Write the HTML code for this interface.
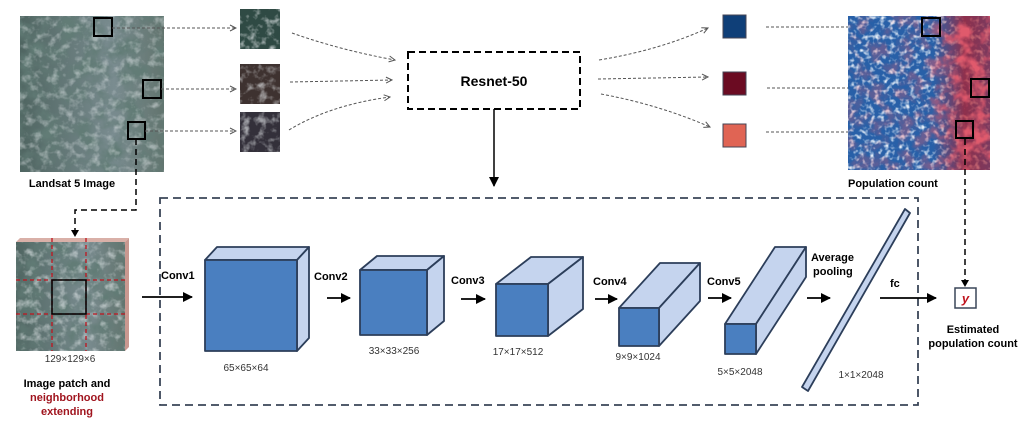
<!DOCTYPE html>
<html><head><meta charset="utf-8"><style>
html,body{margin:0;padding:0;background:#fff;}
svg{display:block;font-family:"Liberation Sans",Arial,sans-serif;}
</style></head><body>
<svg width="1036" height="424" viewBox="0 0 1036 424" xmlns="http://www.w3.org/2000/svg">
<defs>
<marker id="oa" markerWidth="8" markerHeight="8" refX="7" refY="4" orient="auto" markerUnits="userSpaceOnUse"><path d="M1,1 L7,4 L1,7" fill="none" stroke="#555" stroke-width="1"/></marker>
<marker id="fa" markerWidth="10" markerHeight="10" refX="9" refY="5" orient="auto" markerUnits="userSpaceOnUse"><path d="M0,0 L10,5 L0,10 z" fill="#000"/></marker>
<filter id="dark" x="0" y="0" width="100%" height="100%">
<feTurbulence type="fractalNoise" baseFrequency="0.05" numOctaves="4" seed="3"/>
<feColorMatrix values="0 0 0 0 0.12  0 0 0 0 0.2  0 0 0 0 0.18  2.6 0 0 0 -1.0"/>
<feComposite in2="SourceGraphic" operator="in"/>
</filter>
<filter id="light" x="0" y="0" width="100%" height="100%">
<feTurbulence type="fractalNoise" baseFrequency="0.12" numOctaves="3" seed="11"/>
<feColorMatrix values="0 0 0 0 0.85  0 0 0 0 0.88  0 0 0 0 0.9  2.8 0 0 0 -1.35"/>
<feComposite in2="SourceGraphic" operator="in"/>
</filter>
<filter id="red" x="0" y="0" width="100%" height="100%">
<feTurbulence type="fractalNoise" baseFrequency="0.07" numOctaves="3" seed="7"/>
<feColorMatrix values="0 0 0 0 0.75  0 0 0 0 0.1  0 0 0 0 0.15  3.5 0 0 0 -1.5"/>
<feComposite in2="SourceGraphic" operator="in"/>
</filter>
<filter id="wsp" x="0" y="0" width="100%" height="100%">
<feTurbulence type="fractalNoise" baseFrequency="0.2" numOctaves="2" seed="5"/>
<feColorMatrix values="0 0 0 0 0.8  0 0 0 0 0.87  0 0 0 0 0.95  3 0 0 0 -1.45"/>
<feComposite in2="SourceGraphic" operator="in"/>
</filter>
<linearGradient id="lg" x1="0" y1="0" x2="1" y2="0"><stop offset="0" stop-color="#4f6561"/><stop offset="0.65" stop-color="#7a8c90"/><stop offset="1" stop-color="#62746e"/></linearGradient>
<linearGradient id="rm" x1="0" y1="0" x2="1" y2="0"><stop offset="0" stop-color="#fff" stop-opacity="0.25"/><stop offset="0.55" stop-color="#fff" stop-opacity="0.35"/><stop offset="0.8" stop-color="#fff" stop-opacity="1"/></linearGradient>
<linearGradient id="rg" x1="0" y1="0" x2="1" y2="0"><stop offset="0" stop-color="#b0202e" stop-opacity="0"/><stop offset="0.6" stop-color="#b0202e" stop-opacity="0"/><stop offset="0.82" stop-color="#b0202e" stop-opacity="0.75"/><stop offset="1" stop-color="#b0202e" stop-opacity="0.6"/></linearGradient>
<mask id="rmask"><rect x="848" y="16" width="142" height="154" fill="url(#rm)"/></mask>
</defs>

<rect x="20" y="16" width="144" height="156" fill="url(#lg)"/>
<rect x="20" y="16" width="144" height="156" fill="#000" filter="url(#dark)"/>
<rect x="20" y="16" width="144" height="156" fill="#000" filter="url(#light)" opacity="0.45"/>
<rect x="94" y="18" width="18" height="18" fill="none" stroke="#000" stroke-width="2"/>
<rect x="143" y="80" width="18" height="18" fill="none" stroke="#000" stroke-width="2"/>
<rect x="128" y="122" width="17" height="17" fill="none" stroke="#000" stroke-width="2"/>
<text x="72" y="187" font-size="11" font-weight="bold" text-anchor="middle">Landsat 5 Image</text>

<rect x="240" y="9" width="40" height="40" fill="#2f4a44"/>
<rect x="240" y="64" width="40" height="40" fill="#3e3230"/>
<rect x="240" y="112" width="40" height="40" fill="#33303a"/>
<rect x="240" y="9" width="40" height="40" fill="#000" filter="url(#light)" opacity="0.7"/>
<rect x="240" y="64" width="40" height="40" fill="#000" filter="url(#light)" opacity="0.6"/>
<rect x="240" y="112" width="40" height="40" fill="#000" filter="url(#light)" opacity="0.6"/>

<g stroke="#555" stroke-width="1" stroke-dasharray="3,2" fill="none" marker-end="url(#oa)">
<line x1="112" y1="28" x2="236" y2="28"/>
<line x1="161" y1="89" x2="236" y2="89"/>
<line x1="145" y1="131" x2="236" y2="131"/>
<path d="M292,33 Q340,50 395,60"/>
<line x1="290" y1="82" x2="392" y2="80"/>
<path d="M289,130 Q330,105 390,97"/>
<path d="M599,60 Q660,50 708,28"/>
<line x1="598" y1="79" x2="708" y2="77"/>
<path d="M601,94 Q660,105 710,127"/>
<line x1="766" y1="27" x2="920" y2="27" marker-end="none"/>
<line x1="767" y1="88" x2="970" y2="88" marker-end="none"/>
<line x1="766" y1="132" x2="956" y2="132" marker-end="none"/>
</g>

<rect x="408" y="52" width="172" height="57" fill="none" stroke="#000" stroke-width="2" stroke-dasharray="7,4"/>
<text x="494" y="86" font-size="14" font-weight="bold" text-anchor="middle">Resnet-50</text>
<line x1="494" y1="109" x2="494" y2="186" stroke="#000" stroke-width="1.5" marker-end="url(#fa)"/>

<rect x="723" y="15" width="23" height="23" fill="#0f3f78" stroke="#445" stroke-width="1"/>
<rect x="723" y="72" width="23" height="23" fill="#6b0b22" stroke="#445" stroke-width="1"/>
<rect x="723" y="124" width="23" height="23" fill="#e06454" stroke="#445" stroke-width="1"/>

<rect x="848" y="16" width="142" height="154" fill="#2860a8"/>
<rect x="848" y="16" width="142" height="154" fill="#000" filter="url(#wsp)"/>
<rect x="848" y="16" width="142" height="154" fill="url(#rg)"/>
<rect x="848" y="16" width="142" height="154" fill="#000" filter="url(#red)" mask="url(#rmask)"/>
<rect x="922" y="18" width="18" height="18" fill="none" stroke="#000" stroke-width="2"/>
<rect x="971" y="79" width="18" height="18" fill="none" stroke="#000" stroke-width="2"/>
<rect x="956" y="121" width="17" height="17" fill="none" stroke="#000" stroke-width="2"/>
<text x="848" y="187" font-size="11" font-weight="bold">Population count</text>
<path d="M965,139 L965,284" stroke="#000" stroke-width="1.5" stroke-dasharray="6,4" fill="none"/>
<path d="M961,280 L965,287 L969,280 z" fill="#000"/>

<rect x="160" y="198" width="758" height="207" fill="none" stroke="#3a4658" stroke-width="1.8" stroke-dasharray="8,5"/>

<path d="M136,139 L136,210 L75,210 L75,230" stroke="#000" stroke-width="1.5" stroke-dasharray="6,4" fill="none"/>
<path d="M71,230 L75,237 L79,230 z" fill="#000"/>
<polygon points="16,242 20,238 129,238 125,242" fill="#d9b0a8"/>
<polygon points="125,242 129,238 129,347 125,351" fill="#c99890"/>
<rect x="16" y="242" width="109" height="109" fill="url(#lg)"/>
<rect x="16" y="242" width="109" height="109" fill="#000" filter="url(#dark)"/>
<rect x="16" y="242" width="109" height="109" fill="#000" filter="url(#light)" opacity="0.55"/>
<g stroke="#c0141e" stroke-width="1.3" stroke-dasharray="4,3">
<line x1="52" y1="238" x2="52" y2="351"/><line x1="86" y1="238" x2="86" y2="351"/>
<line x1="16" y1="280" x2="125" y2="280"/><line x1="16" y1="314" x2="125" y2="314"/>
</g>
<rect x="52" y="280" width="34" height="34" fill="none" stroke="#000" stroke-width="1.5"/>
<text x="70" y="362" font-size="10" text-anchor="middle" fill="#333">129×129×6</text>
<text x="67" y="387" font-size="11" font-weight="bold" text-anchor="middle">Image patch and</text>
<text x="67" y="401" font-size="11" font-weight="bold" text-anchor="middle" fill="#a0141e">neighborhood</text>
<text x="67" y="415" font-size="11" font-weight="bold" text-anchor="middle" fill="#a0141e">extending</text>

<g stroke="#000" stroke-width="1.8" marker-end="url(#fa)">
<line x1="142" y1="297" x2="192" y2="297"/>
<line x1="327" y1="298" x2="350" y2="298"/>
<line x1="461" y1="299" x2="485" y2="299"/>
<line x1="595" y1="299" x2="617" y2="299"/>
<line x1="708" y1="298" x2="731" y2="298"/>
<line x1="807" y1="298" x2="830" y2="298"/>
<line x1="880" y1="298" x2="936" y2="298"/>
</g>
<g font-size="11" font-weight="bold">
<text x="161" y="279">Conv1</text>
<text x="314" y="280">Conv2</text>
<text x="451" y="284">Conv3</text>
<text x="593" y="285">Conv4</text>
<text x="707" y="285">Conv5</text>
<text x="811" y="261">Average</text>
<text x="813" y="275">pooling</text>
<text x="890" y="287">fc</text>
<text x="973" y="333" text-anchor="middle">Estimated</text>
<text x="973" y="347" text-anchor="middle">population count</text>
</g>

<g stroke="#2c3e5a" stroke-width="1.8" stroke-linejoin="round">
<polygon points="205,260 217,247 309,247 297,260" fill="#c5d4ee"/>
<polygon points="297,260 309,247 309,338 297,351" fill="#c5d4ee"/>
<rect x="205" y="260" width="92" height="91" fill="#4a7fc0"/>
<polygon points="360,270 377,256 444,256 427,270" fill="#c5d4ee"/>
<polygon points="427,270 444,256 444,321 427,335" fill="#c5d4ee"/>
<rect x="360" y="270" width="67" height="65" fill="#4a7fc0"/>
<polygon points="496,284 531,257 583,257 548,284" fill="#c5d4ee"/>
<polygon points="548,284 583,257 583,309 548,336" fill="#c5d4ee"/>
<rect x="496" y="284" width="52" height="52" fill="#4a7fc0"/>
<polygon points="619,308 660,263 700,263 659,308" fill="#c5d4ee"/>
<polygon points="659,308 700,263 700,301 659,346" fill="#c5d4ee"/>
<rect x="619" y="308" width="40" height="38" fill="#4a7fc0"/>
<polygon points="725,324 775,247 806,247 756,324" fill="#c5d4ee"/>
<polygon points="756,324 806,247 806,277 756,354" fill="#c5d4ee"/>
<rect x="725" y="324" width="31" height="30" fill="#4a7fc0"/>
<polygon points="802,387 905,209 910,213 808,391" fill="#c5d4ee"/>
</g>
<g font-size="10" fill="#333" text-anchor="middle">
<text x="246" y="371">65×65×64</text>
<text x="394" y="354">33×33×256</text>
<text x="518" y="355">17×17×512</text>
<text x="638" y="360">9×9×1024</text>
<text x="740" y="375">5×5×2048</text>
<text x="861" y="378">1×1×2048</text>
</g>

<rect x="955" y="288" width="21" height="20" fill="#fff" stroke="#3a4658" stroke-width="1.5"/>
<text x="965.5" y="303" font-size="13" font-weight="bold" font-style="italic" fill="#c0141e" text-anchor="middle">y</text>
</svg>
</body></html>
